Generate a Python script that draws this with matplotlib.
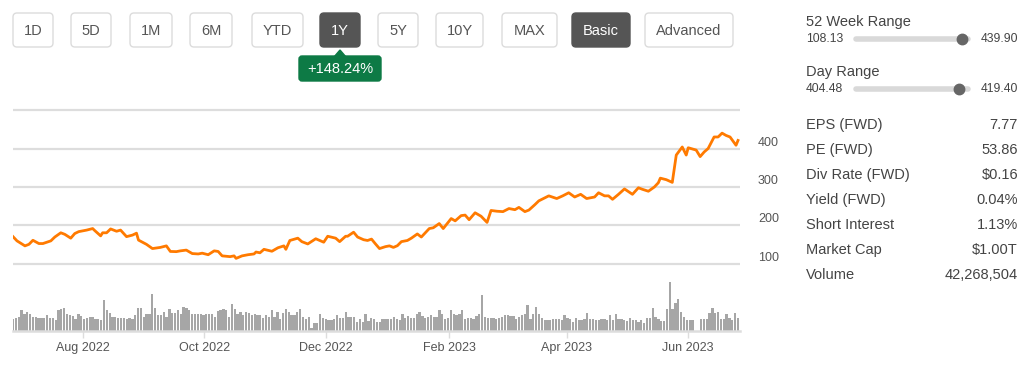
import numpy as np
import pandas as pd
import matplotlib
matplotlib.use("Agg")
import matplotlib.pyplot as plt
from matplotlib.patches import FancyBboxPatch, Polygon

plt.rcParams['font.family'] = ['Liberation Sans', 'DejaVu Sans']

# ---- data ----
price_dates = ["2022-06-27", "2022-06-29", "2022-07-03", "2022-07-05", "2022-07-07", "2022-07-10",
               "2022-07-12", "2022-07-16", "2022-07-18", "2022-07-21", "2022-07-23", "2022-07-26",
               "2022-07-28", "2022-07-30", "2022-08-03", "2022-08-06", "2022-08-07", "2022-08-10",
               "2022-08-11", "2022-08-13", "2022-08-15", "2022-08-18", "2022-08-20", "2022-08-23",
               "2022-08-26", "2022-08-28", "2022-08-29", "2022-09-02", "2022-09-05", "2022-09-09",
               "2022-09-12", "2022-09-14", "2022-09-17", "2022-09-19", "2022-09-22", "2022-09-25",
               "2022-09-28", "2022-09-30", "2022-10-03", "2022-10-06", "2022-10-08", "2022-10-10",
               "2022-10-14", "2022-10-16", "2022-10-17", "2022-10-20", "2022-10-23", "2022-10-26",
               "2022-10-27", "2022-10-29", "2022-10-31", "2022-11-04", "2022-11-07", "2022-11-10",
               "2022-11-11", "2022-11-13", "2022-11-17", "2022-11-19", "2022-11-22", "2022-11-26",
               "2022-11-30", "2022-12-02", "2022-12-06", "2022-12-08", "2022-12-11", "2022-12-12",
               "2022-12-15", "2022-12-17", "2022-12-20", "2022-12-22", "2022-12-24", "2022-12-26",
               "2022-12-28", "2022-12-31", "2023-01-02", "2023-01-04", "2023-01-06", "2023-01-08",
               "2023-01-11", "2023-01-13", "2023-01-16", "2023-01-18", "2023-01-22", "2023-01-24",
               "2023-01-27", "2023-01-29", "2023-02-02", "2023-02-04", "2023-02-07", "2023-02-09",
               "2023-02-11", "2023-02-14", "2023-02-17", "2023-02-20", "2023-02-22", "2023-02-25",
               "2023-02-28", "2023-03-03", "2023-03-06", "2023-03-08", "2023-03-11", "2023-03-13",
               "2023-03-16", "2023-03-18", "2023-03-23", "2023-03-27", "2023-03-30", "2023-04-02",
               "2023-04-05", "2023-04-08", "2023-04-11", "2023-04-15", "2023-04-17", "2023-04-20",
               "2023-04-22", "2023-04-24", "2023-04-27", "2023-04-30", "2023-05-02", "2023-05-04",
               "2023-05-07", "2023-05-09", "2023-05-12", "2023-05-15", "2023-05-17", "2023-05-18",
               "2023-05-21", "2023-05-24", "2023-05-26", "2023-05-29", "2023-05-31", "2023-06-01",
               "2023-06-05", "2023-06-07", "2023-06-09", "2023-06-11", "2023-06-14", "2023-06-16",
               "2023-06-18", "2023-06-20", "2023-06-22", "2023-06-25", "2023-06-26"]
prices = [171, 160, 147, 151, 161.5, 153, 153, 160, 170, 181, 177, 167,
          179, 184, 188, 192, 187, 173, 181, 181, 191, 185, 188, 171,
          175, 180, 162, 151, 140, 143, 147, 132.5, 132, 134, 136, 127,
          126, 128, 124, 134, 132.5, 121, 119, 121, 114.5, 121, 124, 126,
          131, 129, 138, 133, 142, 147, 138, 161, 167, 158, 152, 165.5,
          156.5, 172, 167, 158, 172, 172, 182.5, 170, 163, 161, 164.6, 152,
          140, 145, 147, 143, 147.5, 158, 161, 167, 178, 170, 192, 194,
          205, 192, 218, 212, 225.6, 227, 215, 233, 224, 208, 239, 237,
          236, 244, 241, 247, 236, 240, 254, 264, 277, 270, 277, 285,
          274, 281, 270, 274, 285, 277, 277, 268, 281, 295, 288, 281,
          298, 294, 289, 300, 311, 323, 319, 312, 383, 404, 383, 402,
          396, 379, 391, 400, 430, 430, 440, 434, 430, 408.5, 421]

# daily volume, millions of shares (left to right)
volumes = [35, 38, 42, 62, 50, 57, 50, 43, 43, 40, 40, 40, 47, 40, 40, 32, 63, 65, 69, 50,
           47, 45, 37, 50, 45, 37, 40, 43, 43, 37, 37, 32, 92, 62, 55, 43, 43, 40, 40, 40,
           37, 40, 35, 47, 69, 69, 43, 50, 52, 110, 69, 47, 47, 57, 43, 65, 55, 55, 62, 50,
           73, 70, 62, 52, 52, 50, 50, 47, 52, 52, 52, 43, 60, 62, 65, 62, 43, 80, 65, 50,
           57, 47, 57, 53, 47, 50, 47, 47, 40, 47, 43, 62, 43, 57, 37, 53, 65, 57, 47, 47,
           57, 65, 43, 37, 43, 10, 25, 25, 50, 40, 35, 33, 33, 37, 47, 40, 40, 57, 43, 43,
           43, 28, 35, 28, 50, 30, 40, 35,
           28, 28, 37, 37, 35, 35, 43, 35, 32, 50, 40, 45, 40, 40, 50, 57, 45, 40, 43, 47,
           43, 43, 62, 50, 37, 40, 62, 50, 48, 50, 62, 35, 38, 40, 37, 45, 52, 107, 43, 40,
           40, 40, 35, 38, 43, 47, 47, 45, 45, 37, 43, 47, 52, 77, 37, 52, 73, 52, 40, 32,
           32, 32, 35, 35, 35, 32, 47, 40, 35, 27, 40, 32, 32, 35, 55, 35, 37, 32, 32, 35,
           35, 33, 47, 33, 50, 37, 35, 33, 30, 40, 32, 32, 27, 32, 25, 40, 40, 69, 43, 35,
           30, 30, 65, 148, 65, 85, 95, 58, 43, 32, 32, 32, 0, 0, 35, 35, 35, 53, 68, 53,
           58, 37, 37, 50, 40, 32, 53, 38]

buttons = ["1D", "5D", "1M", "6M", "YTD", "1Y", "5Y", "10Y", "MAX", "Basic", "Advanced"]
active = ["1Y", "Basic"]
change_label = "+148.24%"

week52_low, week52_high = 108.13, 439.90
day_low, day_high = 404.48, 419.40
last_price = 418.0

stat_names = ["EPS (FWD)", "PE (FWD)", "Div Rate (FWD)", "Yield (FWD)", "Short Interest", "Market Cap", "Volume"]
stat_values = ["7.77", "53.86", "$0.16", "0.04%", "1.13%", "$1.00T", "42,268,504"]

price_ticks = [100, 200, 300, 400, 500]
month_ticks = ["2022-08-01", "2022-10-01", "2022-12-01", "2023-02-01", "2023-04-01", "2023-06-01"]
start, end = pd.Timestamp("2022-06-27"), pd.Timestamp("2023-06-27")

W, H = 1028, 374
fig = plt.figure(figsize=(W / 100, H / 100), dpi=100)

# overlay axes in pixel units for the page widgets
ui = fig.add_axes([0, 0, 1, 1])
ui.set_xlim(0, W)
ui.set_ylim(H, 0)
ui.axis("off")

btn_x = [(13, 53), (71, 111), (130, 172), (190, 232), (252, 303), (320, 360),
         (378, 418), (436, 483), (502, 557), (572, 630), (645, 733)]
for name, (x0, x1) in zip(buttons, btn_x):
    on = name in active
    ui.add_patch(FancyBboxPatch((x0, 13), x1 - x0, 34, boxstyle="round,pad=0,rounding_size=4",
                                fc="#555555" if on else "white",
                                ec="#555555" if on else "#dcdcdc", lw=1))
    ui.text((x0 + x1) / 2, 30.5, name, ha="center", va="center", fontsize=10.5,
            color="white" if on else "#555555")

# green change badge
green = "#0d7a45"
ui.add_patch(FancyBboxPatch((299, 56), 82, 25, boxstyle="round,pad=0,rounding_size=3", fc=green, ec=green))
ui.add_patch(Polygon([(334, 57), (340, 50), (346, 57)], closed=True, fc=green, ec=green))
ui.text(340, 68.5, change_label, ha="center", va="center", fontsize=10.5, color="white")

# right panel
txt = "#444444"
def range_row(title, y, lo, hi, cur):
    ui.text(806, y, title, ha="left", va="center", fontsize=10.5, color=txt)
    ui.text(806, y + 17, f"{lo:.2f}", ha="left", va="center", fontsize=8.7, color=txt)
    ui.text(1018, y + 17, f"{hi:.2f}", ha="right", va="center", fontsize=8.7, color=txt)
    ui.plot([856, 968], [y + 17, y + 17], color="#d9d9d9", lw=4, solid_capstyle="round")
    frac = (cur - lo) / (hi - lo)
    ui.plot([854 + frac * 116], [y + 17], "o", color="#666666", ms=7.5)

range_row("52 Week Range", 22, week52_low, week52_high, last_price)
range_row("Day Range", 72, day_low, day_high, last_price)

for i, (n, v) in enumerate(zip(stat_names, stat_values)):
    y = 125 + 25 * i
    ui.text(806, y, n, ha="left", va="center", fontsize=10.5, color=txt)
    ui.text(1018, y, v, ha="right", va="center", fontsize=10.5, color=txt)

# price chart
def px_rect(x0, y0, x1, y1):
    return [x0 / W, 1 - y1 / H, (x1 - x0) / W, (y1 - y0) / H]

ax = fig.add_axes(px_rect(13, 106, 740, 268))
ax.patch.set_alpha(0)
ax.plot(pd.to_datetime(price_dates), prices, color="#ff7a00", lw=2.0, solid_joinstyle="round")
ax.set_xlim(start, end)
ax.set_ylim(100 - 4 / 0.38, 500 + 4 / 0.38)
ax.set_yticks(price_ticks)
ax.set_yticklabels([str(t) if t < 500 else "" for t in price_ticks])
ax.yaxis.tick_right()
ax.tick_params(axis="y", length=0, pad=13, labelsize=9, labelcolor="#555555")
for lbl in ax.get_yticklabels():
    lbl.set_verticalalignment("bottom")
ax.set_xticks([])
ax.grid(axis="y", color="#dddddd", lw=1.6)
ax.set_axisbelow(True)
for s in ax.spines.values():
    s.set_visible(False)

# volume chart
vx = fig.add_axes(px_rect(13, 276, 740, 331))
vx.patch.set_alpha(0)
bar_dates = pd.date_range(start, pd.Timestamp("2023-06-26"), periods=len(volumes))
step = (bar_dates[1] - bar_dates[0]) / pd.Timedelta(days=1)
vx.bar(bar_dates, volumes, width=step * 0.8, color="#a6a6a6", align="center")
vx.set_xlim(start, end)
vx.set_ylim(0, 165)
vx.set_yticks([])
for s in ["top", "left", "right"]:
    vx.spines[s].set_visible(False)
vx.spines["bottom"].set_color("#dddddd")
vx.spines["bottom"].set_linewidth(1.8)
mt = pd.to_datetime(month_ticks)
vx.set_xticks(mt)
vx.set_xticklabels([d.strftime("%b %Y") for d in mt])
vx.tick_params(axis="x", length=5, width=1, color="#dddddd", pad=3, labelsize=9, labelcolor="#555555")

fig.savefig("out.png", dpi=100)
